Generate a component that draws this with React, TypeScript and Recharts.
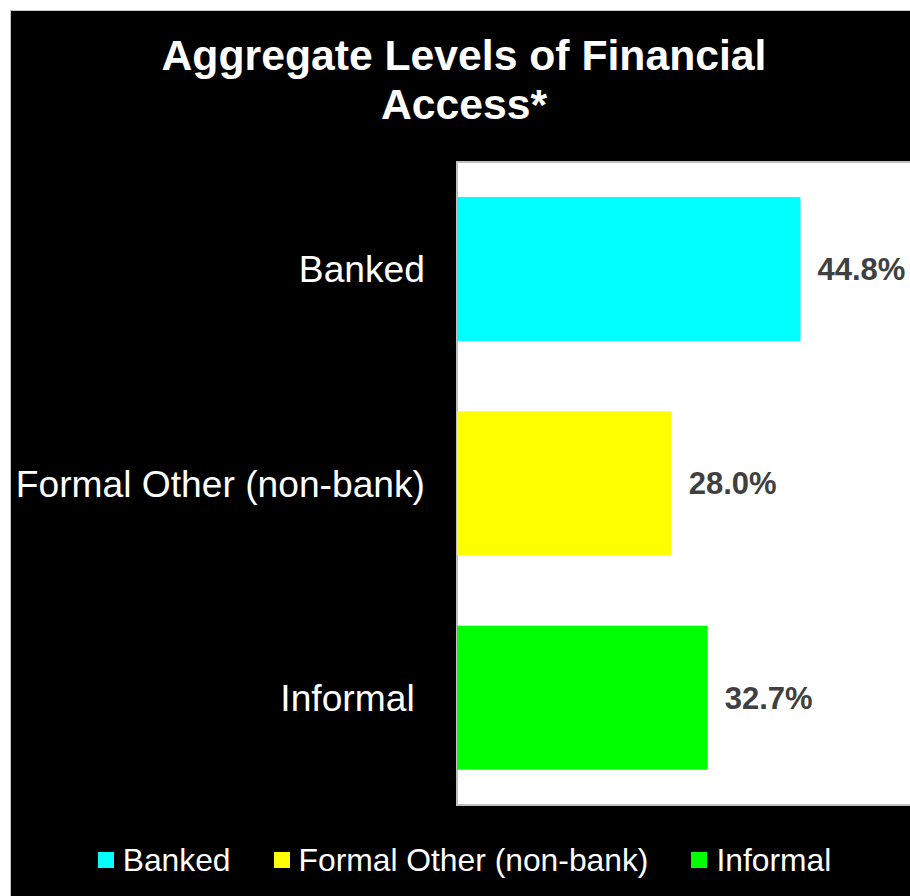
import { BarChart, Bar, XAxis, YAxis, Cell, LabelList, ReferenceArea } from "recharts";

const categories = ["Banked", "Formal Other (non-bank)", "Informal"];
// the original axis label for Informal carries a trailing space
const tickLabels = ["Banked", "Formal Other (non-bank)", "Informal\u00A0"];
const values = [44.8, 28.0, 32.7];
const colors = ["#00FFFF", "#FFFF00", "#00FF00"];
const xDomain = [0, 60];

const data = categories.map((name, i) => ({ name, label: tickLabels[i], value: values[i] }));

const font = "Arial, 'Liberation Sans', sans-serif";

export default function App() {
  return (
    <div style={{ position: "absolute", left: 0, top: 0, width: 910, height: 896, overflow: "hidden", background: "#fff", fontFamily: font }}>
      <div style={{ position: "absolute", left: 10, top: 10, width: 940, height: 920, background: "#000", border: "1px solid #c8c8c8" }} />
      <div style={{ position: "absolute", left: 0, top: 31, width: 928, textAlign: "center", color: "#fff", fontSize: 42.7, fontWeight: "bold", lineHeight: "49px" }}>
        Aggregate Levels of Financial<br />Access*
      </div>
      <div style={{ position: "absolute", left: 0, top: 0 }}>
        <BarChart
          width={930}
          height={896}
          layout="vertical"
          data={data}
          margin={{ top: 162, right: 13, bottom: 91, left: 0 }}
        >
          <XAxis type="number" domain={xDomain} hide />
          <YAxis
            type="category"
            dataKey="label"
            width={457}
            axisLine={false}
            tickLine={false}
            tickSize={0}
            tickMargin={32}
            tick={{ fill: "#fff", fontSize: 37.2, fontFamily: font }}
          />
          <ReferenceArea x1={xDomain[0]} x2={xDomain[1]} fill="#fff" fillOpacity={1} stroke="#c0c0c0" strokeWidth={2} ifOverflow="extendDomain" />
          <Bar dataKey="value" barSize={144} isAnimationActive={false}>
            {data.map((d, i) => (
              <Cell key={d.name} fill={colors[i]} />
            ))}
            <LabelList
              dataKey="value"
              position="right"
              offset={17}
              formatter={(v: number) => `${v.toFixed(1)}%`}
              style={{ fill: "#404040", fontSize: 31, fontWeight: "bold", fontFamily: font }}
            />
          </Bar>
        </BarChart>
      </div>
      <div style={{ position: "absolute", left: 0, top: 842, width: 929, display: "flex", justifyContent: "center", color: "#fff", fontSize: 31.8, lineHeight: "36px" }}>
        {categories.map((c, i) => (
          <div key={c} style={{ display: "flex", alignItems: "center", marginLeft: i === 0 ? 0 : 43 }}>
            <span style={{ width: 16, height: 16, background: colors[i], marginRight: 9, display: "inline-block" }} />
            <span>{c}</span>
          </div>
        ))}
      </div>
    </div>
  );
}
